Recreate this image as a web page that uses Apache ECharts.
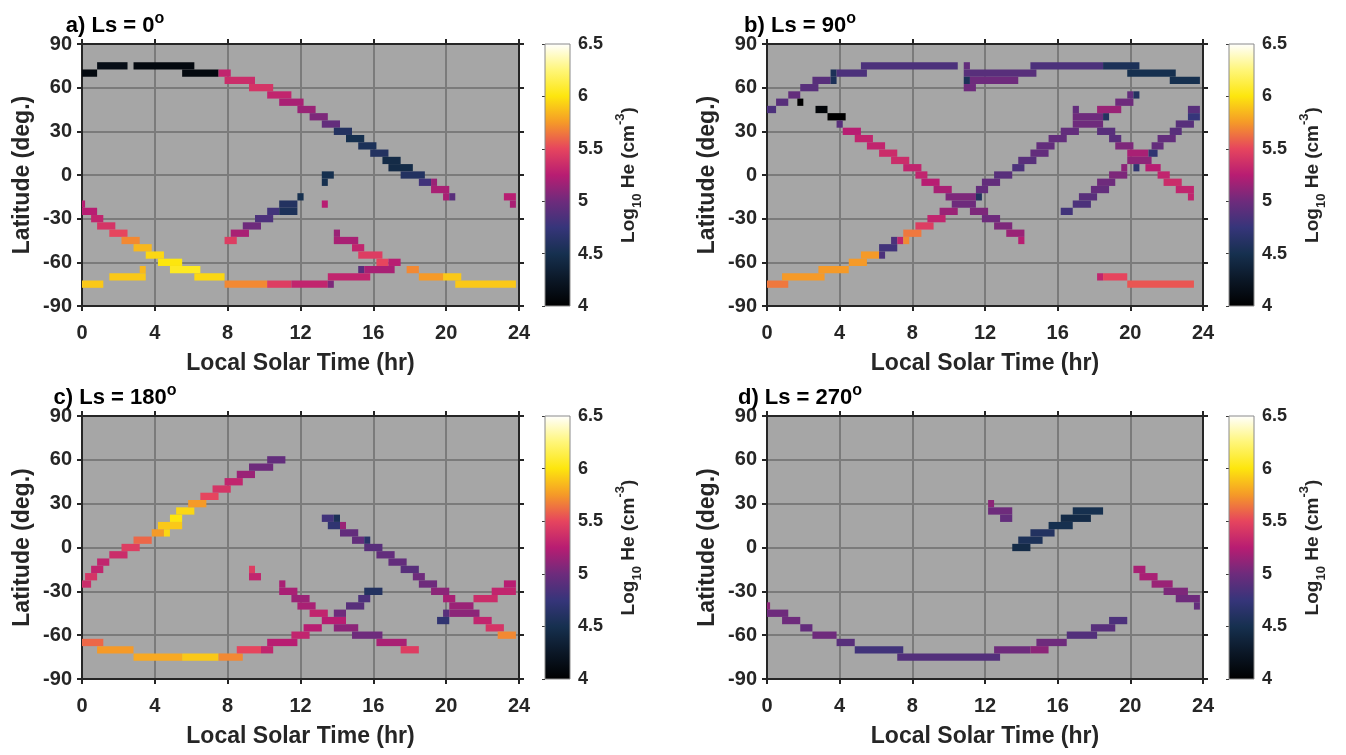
<!DOCTYPE html>
<html>
<head>
<meta charset="utf-8">
<script src="https://cdn.jsdelivr.net/npm/echarts@6/dist/echarts.min.js"></script>
<style>html,body{margin:0;padding:0;background:#fff}#c{width:1346px;height:755px}</style>
</head>
<body>
<div id="c"></div>
<script>
// ---------------- DATA ----------------
// Each cell run: [LST start (hr), LST end (hr), latitude bin centre (deg), log10 He (cm^-3)]
const panelTitles = ['a) Ls = 0', 'b) Ls = 90', 'c) Ls = 180', 'd) Ls = 270'];
const xAxisName = 'Local Solar Time (hr)';
const yAxisName = 'Latitude (deg.)';
const lstRange = [0, 24], lstStep = 4;
const latRange = [-90, 90], latStep = 30;
const cbRange = [4, 6.5], cbStep = 0.5;
const latBin = 5;
// colour map, evenly spaced from 4 to 6.5
const CMAP = ['#000000', '#0b1726', '#16304f', '#36357a', '#6e2b7c', '#b81d72',
              '#e6455e', '#f59a28', '#fde60e', '#fff67a', '#ffffff'];

const cellsLs0 = [
  [0, 0.83, 70, 4.1], [0.83, 2.5, 75, 4.15], [2.83, 6.17, 75, 4.1], [5.5, 7.5, 70, 4.1],
  [7.5, 8.17, 70, 5.3], [7.83, 9.5, 65, 5.35], [9.17, 10.5, 60, 5.4], [10.17, 11.5, 55, 5.3],
  [10.83, 12.17, 50, 5.2], [11.83, 12.83, 45, 5.15], [12.5, 13.5, 40, 5.05], [13.17, 14.17, 35, 4.95],
  [13.83, 14.83, 30, 4.6], [14.5, 15.5, 25, 4.5], [15.17, 16.17, 20, 4.55], [15.83, 16.83, 15, 4.6],
  [16.5, 17.5, 10, 4.45], [16.83, 18.17, 5, 4.45], [17.5, 18.83, 0, 4.6], [18.5, 19.17, -5, 4.8],
  [19.17, 19.5, -5, 5.15], [19.17, 20.17, -10, 5.2], [19.83, 20.17, -15, 5.2], [20.17, 20.5, -15, 4.9],
  [23.17, 23.83, -15, 5.25], [23.5, 23.83, -20, 5.2],
  [13.17, 13.83, 0, 4.5], [13.17, 13.5, -5, 4.5], [13.17, 13.5, -20, 5.25],
  [11.83, 12.17, -15, 4.5], [10.83, 11.83, -20, 4.6], [10.17, 10.83, -25, 4.8], [10.83, 11.83, -25, 4.55],
  [9.5, 10.5, -30, 4.85], [8.83, 9.83, -35, 5.0], [8.17, 9.17, -40, 5.2], [7.83, 8.5, -45, 5.45],
  [0, 0.17, -20, 5.25], [0, 0.83, -25, 5.25], [0.5, 1.17, -30, 5.3], [0.83, 1.83, -35, 5.4],
  [1.5, 2.5, -40, 5.5], [2.17, 3.17, -45, 5.7], [2.83, 3.83, -50, 5.85], [3.5, 4.5, -55, 5.95],
  [4.17, 5.5, -60, 6.0], [4.83, 6.5, -65, 6.05], [6.17, 7.83, -70, 5.95],
  [7.83, 10.17, -75, 5.7], [10.17, 11.5, -75, 5.45], [11.5, 13.5, -75, 5.3], [13.5, 13.83, -75, 5.05],
  [0, 1.17, -75, 5.9], [1.5, 3.5, -70, 5.9], [3.17, 3.5, -65, 5.85],
  [13.83, 14.17, -40, 5.15], [13.83, 15.17, -45, 5.2], [14.83, 15.5, -50, 5.3], [15.17, 16.5, -55, 5.45],
  [16.17, 16.83, -60, 5.5], [16.83, 17.5, -60, 5.25], [15.17, 15.5, -65, 4.9], [15.5, 17.17, -65, 5.2],
  [13.5, 15.83, -70, 5.3],
  [17.83, 18.5, -65, 5.7], [18.5, 19.83, -70, 5.75], [19.83, 20.83, -70, 5.9], [20.5, 23.83, -75, 5.9]
];

const cellsLs90 = [
  [0, 0.5, 45, 4.85], [0.5, 1.17, 50, 4.9], [1.17, 1.83, 55, 4.95], [1.83, 2.83, 60, 4.9],
  [2.5, 3.5, 65, 4.9], [3.5, 3.83, 65, 4.55], [3.5, 3.83, 70, 4.55], [3.83, 5.5, 70, 4.85],
  [5.17, 10.5, 75, 4.85],
  [10.83, 11.17, 75, 4.95], [10.83, 14.83, 70, 4.9], [10.83, 11.17, 65, 4.55], [11.17, 13.83, 65, 5.0],
  [10.83, 11.5, 60, 5.0], [14.5, 18.5, 75, 4.85], [18.5, 20.5, 75, 4.55], [19.83, 22.5, 70, 4.5],
  [22.17, 23.83, 65, 4.5],
  [1.67, 2.0, 50, 4.0], [2.67, 3.33, 45, 4.05], [3.33, 4.33, 40, 4.0], [3.83, 4.17, 35, 4.9],
  [4.17, 5.17, 30, 5.25], [4.83, 5.83, 25, 5.3], [5.5, 6.5, 20, 5.3], [6.17, 7.17, 15, 5.35],
  [6.83, 7.83, 10, 5.35], [7.5, 8.5, 5, 5.3], [8.17, 8.83, 0, 5.3], [8.5, 9.5, -5, 5.25],
  [9.17, 10.17, -10, 5.2], [9.83, 11.5, -15, 5.05], [11.5, 11.83, -15, 4.6], [10.17, 11.5, -20, 5.0],
  [11.17, 12.17, -25, 5.05], [11.83, 12.83, -30, 5.0], [12.5, 13.5, -35, 5.05], [13.17, 14.17, -40, 5.15],
  [13.83, 14.17, -45, 5.25],
  [0, 1.17, -75, 5.65], [0.83, 3.17, -70, 5.75], [2.83, 4.5, -65, 5.75], [4.5, 5.5, -60, 5.75],
  [5.17, 6.17, -55, 5.75], [6.17, 6.5, -55, 4.85], [6.17, 7.17, -50, 4.8], [6.83, 7.17, -45, 4.85],
  [7.17, 7.5, -45, 5.3], [7.5, 7.83, -45, 5.7], [7.5, 8.5, -40, 5.65], [8.17, 9.17, -35, 5.45],
  [8.83, 9.83, -30, 5.3], [9.5, 10.5, -25, 5.15],
  [11.5, 12.17, -10, 4.95], [11.83, 12.83, -5, 4.95], [12.5, 13.5, 0, 4.9], [13.5, 14.17, 5, 4.85],
  [13.83, 14.83, 10, 4.9], [14.5, 15.5, 15, 4.95], [14.83, 15.83, 20, 4.95], [15.5, 16.5, 25, 4.95],
  [16.17, 17.17, 30, 4.95], [16.83, 18.5, 35, 5.0], [16.83, 18.5, 40, 5.0], [18.5, 18.83, 40, 4.6],
  [16.83, 17.17, 45, 4.95], [18.17, 19.5, 45, 5.15], [19.17, 20.17, 50, 5.0], [19.83, 20.17, 55, 4.95],
  [20.17, 20.5, 55, 4.6],
  [18.17, 19.17, 30, 4.9], [18.83, 19.5, 25, 4.9], [19.17, 20.17, 20, 5.05], [19.83, 21.0, 15, 5.2],
  [21.0, 21.5, 15, 4.7], [19.83, 21.17, 10, 5.1], [19.5, 19.83, 5, 5.1], [20.17, 20.5, 5, 4.7],
  [20.83, 21.67, 5, 5.25], [18.83, 19.83, 0, 5.05], [21.5, 22.17, 0, 5.3], [18.17, 19.17, -5, 5.0],
  [21.83, 22.83, -5, 5.35], [17.83, 18.83, -10, 4.95], [22.5, 23.5, -10, 5.3], [17.17, 18.17, -15, 4.9],
  [23.17, 23.5, -15, 5.3], [16.83, 17.83, -20, 4.85], [16.17, 16.83, -25, 4.8],
  [21.17, 21.83, 20, 4.95], [21.5, 22.5, 25, 4.95], [22.17, 22.83, 30, 4.9], [22.5, 23.5, 35, 4.9],
  [23.17, 23.83, 40, 4.75], [23.17, 23.83, 45, 4.9],
  [18.17, 18.5, -70, 5.3], [18.5, 19.83, -70, 5.5], [19.83, 23.5, -75, 5.55]
];

const cellsLs180 = [
  [0, 0.5, -25, 5.35], [0.17, 0.83, -20, 5.4], [0.5, 1.17, -15, 5.3], [0.83, 1.5, -10, 5.3],
  [1.5, 2.5, -5, 5.35], [2.17, 3.17, 0, 5.45], [2.83, 3.83, 5, 5.6], [3.83, 4.5, 10, 5.75],
  [4.5, 4.83, 10, 5.95], [4.17, 5.5, 15, 5.9], [4.83, 5.5, 20, 6.0], [5.17, 6.17, 25, 5.95],
  [5.83, 6.83, 30, 5.75], [6.5, 7.5, 35, 5.5], [7.17, 8.17, 40, 5.4], [7.83, 8.83, 45, 5.3],
  [8.5, 9.5, 50, 5.15], [9.17, 10.5, 55, 5.0], [10.17, 11.17, 60, 4.95],
  [9.17, 9.5, -15, 5.45], [9.17, 9.83, -20, 5.3],
  [13.17, 13.83, 20, 4.8], [13.83, 14.17, 20, 4.55], [13.5, 14.17, 15, 4.7], [14.17, 14.5, 15, 5.15],
  [14.17, 15.17, 10, 4.95], [14.83, 15.5, 5, 4.95], [15.5, 15.83, 5, 4.65], [15.5, 16.5, 0, 4.9],
  [16.17, 17.17, -5, 4.95], [16.83, 17.83, -10, 4.95], [17.5, 18.5, -15, 4.9], [18.17, 18.83, -20, 5.0],
  [18.5, 19.5, -25, 5.0], [19.17, 20.17, -30, 5.1], [19.83, 20.5, -35, 5.2], [20.17, 21.5, -40, 5.15],
  [19.83, 20.17, -45, 4.9], [20.17, 21.83, -45, 5.1], [19.5, 20.17, -50, 4.7], [21.5, 22.5, -50, 5.3],
  [22.17, 23.17, -55, 5.4], [22.83, 23.83, -60, 5.7],
  [21.5, 22.83, -35, 5.35], [22.5, 23.83, -30, 5.3], [23.17, 23.83, -25, 5.25],
  [10.83, 11.17, -25, 5.2], [10.83, 11.83, -30, 5.2], [11.5, 12.5, -35, 5.15], [11.83, 12.83, -40, 5.2],
  [12.5, 13.5, -45, 5.3], [13.17, 14.5, -50, 5.25], [12.17, 13.17, -55, 5.25], [13.83, 15.17, -55, 5.1],
  [11.5, 12.5, -60, 5.3], [14.83, 16.5, -60, 5.0], [10.17, 11.83, -65, 5.25], [16.17, 17.83, -65, 5.2],
  [17.5, 18.5, -70, 5.45],
  [13.83, 14.5, -45, 5.0], [14.5, 15.5, -40, 4.9], [15.17, 15.83, -35, 4.85], [15.5, 16.5, -30, 4.6],
  [0, 1.17, -65, 5.6], [0.83, 2.83, -70, 5.75], [2.83, 5.5, -75, 5.8], [5.5, 7.5, -75, 5.9],
  [7.5, 8.83, -75, 5.7], [8.5, 9.83, -70, 5.5], [9.83, 10.5, -70, 5.3]
];

const cellsLs270 = [
  [0, 0.17, -40, 5.1], [0, 1.17, -45, 5.0], [0.83, 1.83, -50, 5.0], [1.83, 2.5, -55, 4.95],
  [2.5, 3.83, -60, 5.0], [3.83, 4.83, -65, 4.9], [4.83, 7.5, -70, 4.8], [7.17, 12.83, -75, 4.88],
  [12.5, 14.5, -70, 5.0], [14.5, 15.5, -70, 5.1], [14.83, 16.5, -65, 5.0], [16.5, 18.17, -60, 4.88],
  [17.83, 19.17, -55, 4.9], [18.83, 19.83, -50, 4.85],
  [20.17, 20.83, -15, 5.2], [20.5, 21.5, -20, 5.2], [21.17, 22.33, -25, 5.15], [21.83, 23.17, -30, 5.05],
  [22.5, 23.83, -35, 5.0], [23.5, 23.83, -40, 4.95],
  [12.17, 12.5, 30, 5.1], [12.17, 13.5, 25, 5.0], [12.83, 13.5, 20, 4.95],
  [13.5, 14.5, 0, 4.45], [13.83, 15.17, 5, 4.55], [14.5, 15.83, 10, 4.6], [15.5, 16.83, 15, 4.5],
  [16.17, 17.83, 20, 4.45], [16.83, 18.5, 25, 4.5]
];

const panelCells = [cellsLs0, cellsLs90, cellsLs180, cellsLs270];

// ---------------- LAYOUT ----------------
const FONT = 'Liberation Sans, Arial, Helvetica, sans-serif';
const INK = '#262626';
const PLOTS = [
  { left: 82, top: 44, width: 437, height: 262 },
  { left: 767, top: 44, width: 436, height: 262 },
  { left: 82, top: 416, width: 437, height: 263 },
  { left: 767, top: 416, width: 436, height: 263 }
];
const CB_GAP = 26, CB_W = 25;

const grids = [], xAxes = [], yAxes = [], series = [];

PLOTS.forEach(p => grids.push({
  left: p.left, top: p.top, width: p.width, height: p.height,
  show: true, backgroundColor: '#a6a6a6', borderWidth: 0
}));
PLOTS.forEach(p => grids.push({
  left: p.left + p.width + CB_GAP, top: p.top, width: CB_W, height: p.height, show: false
}));

const tickStyle = { show: true, inside: false, length: 5, lineStyle: { color: INK, width: 2 } };
const lineStyle = { show: true, onZero: false, lineStyle: { color: INK, width: 2 } };
const labelStyle = { fontFamily: FONT, fontWeight: 'bold', fontSize: 20, color: INK };
const splitStyle = { show: true, lineStyle: { color: '#7b7b7b', width: 2 } };

PLOTS.forEach((p, i) => {
  xAxes.push({
    type: 'value', gridIndex: i, position: 'bottom', min: lstRange[0], max: lstRange[1], interval: lstStep,
    axisLine: lineStyle, axisTick: tickStyle, splitLine: splitStyle,
    axisLabel: Object.assign({ margin: 17, showMinLabel: true, showMaxLabel: true }, labelStyle),
    name: xAxisName, nameLocation: 'middle', nameGap: 46,
    nameTextStyle: { fontFamily: FONT, fontWeight: 'bold', fontSize: 23, color: INK }
  });
  xAxes.push({
    type: 'value', gridIndex: i, position: 'top', min: lstRange[0], max: lstRange[1], interval: lstStep,
    axisLine: lineStyle, axisTick: tickStyle, splitLine: { show: false }, axisLabel: { show: false }
  });
  yAxes.push({
    type: 'value', gridIndex: i, position: 'left', min: latRange[0], max: latRange[1], interval: latStep,
    axisLine: lineStyle, axisTick: tickStyle, splitLine: splitStyle,
    axisLabel: Object.assign({ margin: 10, showMinLabel: true, showMaxLabel: true }, labelStyle),
    name: yAxisName, nameLocation: 'middle', nameGap: 48,
    nameTextStyle: { fontFamily: FONT, fontWeight: 'bold', fontSize: 23, color: INK }
  });
  yAxes.push({
    type: 'value', gridIndex: i, position: 'right', min: latRange[0], max: latRange[1], interval: latStep,
    axisLine: lineStyle, axisTick: tickStyle, splitLine: { show: false }, axisLabel: { show: false }
  });
});

// colour bar axes
PLOTS.forEach((p, i) => {
  xAxes.push({ type: 'value', gridIndex: 4 + i, min: 0, max: 1, show: false });
  yAxes.push({
    type: 'value', gridIndex: 4 + i, position: 'right', min: cbRange[0], max: cbRange[1], interval: cbStep,
    axisLine: { show: false }, splitLine: { show: false },
    axisTick: { show: true, inside: true, length: 3, lineStyle: { color: '#3a3a3a', width: 1 } },
    axisLabel: { margin: 8, fontFamily: FONT, fontWeight: 'bold', fontSize: 18, color: INK,
                 showMinLabel: true, showMaxLabel: true },
    name: '{n|Log}{sub|10}{n| He (cm}{sup|-3}{n|)}', nameLocation: 'middle', nameGap: 44,
    nameTextStyle: {
      color: INK,
      rich: {
        n: { fontFamily: FONT, fontWeight: 'bold', fontSize: 19, lineHeight: 30, color: INK },
        sub: { fontFamily: FONT, fontWeight: 'bold', fontSize: 13, lineHeight: 13, verticalAlign: 'bottom', color: INK },
        sup: { fontFamily: FONT, fontWeight: 'bold', fontSize: 13, lineHeight: 13, verticalAlign: 'top', color: INK }
      }
    }
  });
});

function renderCell(params, api) {
  const lat = api.value(2);
  const p0 = api.coord([api.value(0), lat + latBin / 2]);
  const p1 = api.coord([api.value(1), lat - latBin / 2]);
  return {
    type: 'rect',
    shape: { x: p0[0], y: p0[1], width: p1[0] - p0[0], height: p1[1] - p0[1] },
    style: { fill: api.visual('color') }
  };
}

panelCells.forEach((cells, i) => {
  series.push({
    type: 'custom', xAxisIndex: 2 * i, yAxisIndex: 2 * i,
    renderItem: renderCell, encode: { x: [0, 1], y: 2 },
    dimensions: ['x0', 'x1', 'lat', 'he'],
    data: cells, silent: true
  });
});

const gradStops = CMAP.slice().reverse().map((c, k, arr) => ({ offset: k / (arr.length - 1), color: c }));
PLOTS.forEach((p, i) => {
  series.push({
    type: 'custom', xAxisIndex: 8 + i, yAxisIndex: 8 + i, silent: true,
    encode: { x: 0, y: 1 },
    data: [[0, cbRange[0]]],
    renderItem: function (params, api) {
      const a = api.coord([0, cbRange[1]]);
      const b = api.coord([1, cbRange[0]]);
      return {
        type: 'rect',
        shape: { x: a[0], y: a[1], width: b[0] - a[0], height: b[1] - a[1] },
        style: { fill: new echarts.graphic.LinearGradient(0, 0, 0, 1, gradStops), stroke: '#8a8a8a', lineWidth: 1 }
      };
    }
  });
});

const titles = PLOTS.map((p, i) => ({
  type: 'text', x: p.left + 33, y: p.top - 18, z: 10,
  style: {
    text: '{t|' + panelTitles[i] + '}{s|o}',
    align: 'center', verticalAlign: 'middle', textAlign: 'center', textVerticalAlign: 'middle',
    rich: {
      t: { fontFamily: FONT, fontWeight: 'bold', fontSize: 22, lineHeight: 30, fill: '#000', color: '#000' },
      s: { fontFamily: FONT, fontWeight: 'bold', fontSize: 16, lineHeight: 16, verticalAlign: 'top', fill: '#000', color: '#000' }
    }
  }
}));

const chart = echarts.init(document.getElementById('c'), null, { width: 1346, height: 755 });
chart.setOption({
  animation: false,
  backgroundColor: '#ffffff',
  grid: grids,
  xAxis: xAxes,
  yAxis: yAxes,
  visualMap: {
    type: 'continuous', show: false, min: cbRange[0], max: cbRange[1], dimension: 3,
    seriesIndex: [0, 1, 2, 3], inRange: { color: CMAP }
  },
  series: series,
  graphic: titles
});
</script>
</body>
</html>
